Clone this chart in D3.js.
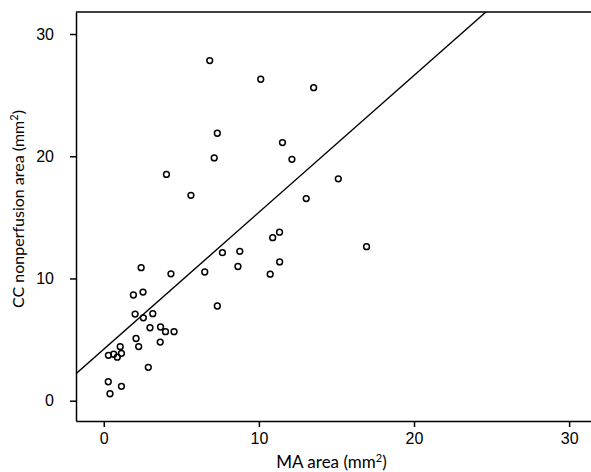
<!DOCTYPE html>
<html>
<head>
<meta charset="utf-8">
<script src="https://cdn.jsdelivr.net/npm/d3@7"></script>
<style>
  body { margin: 0; background: #fff; }
  svg { display: block; font-family: Lato, "Open Sans", sans-serif; }
  .axis path, .axis line { stroke: #000; stroke-width: 1.5; }
  .axis text { font-size: 16px; fill: #000; }
</style>
</head>
<body>
<svg id="chart" width="591" height="472"></svg>
<script>
// MA area (mm²) vs CC nonperfusion area (mm²)
const maArea = [
  6.83, 10.12, 13.53, 7.32, 7.12, 11.52, 12.13, 4.04, 5.62, 15.12, 13.05,
  16.94, 10.89, 11.33, 7.65, 8.77, 8.65, 11.34, 10.73, 6.51, 7.32, 2.41,
  4.33, 1.91, 2.53, 2.02, 2.55, 3.16, 2.98, 3.66, 3.98, 4.53, 2.08,
  2.25, 3.64, 1.06, 0.30, 0.64, 0.87, 1.14, 2.87, 0.29, 1.14, 0.40
];
const ccArea = [
  27.83, 26.30, 25.61, 21.88, 19.86, 21.12, 19.75, 18.51, 16.80, 18.15, 16.54,
  12.60, 13.34, 13.79, 12.11, 12.22, 10.98, 11.35, 10.35, 10.53, 7.75, 10.88,
  10.38, 8.65, 8.89, 7.09, 6.78, 7.12, 5.97, 6.03, 5.65, 5.65, 5.09,
  4.43, 4.80, 4.42, 3.71, 3.80, 3.56, 3.88, 2.73, 1.55, 1.18, 0.57
];
const xTicks = [0, 10, 20, 30];
const yTicks = [0, 10, 20, 30];
// fitted line y = a + b*x
const fitIntercept = 4.21;
const fitSlope = 1.12;

const points = maArea.map((x, i) => ({ x, y: ccArea[i] }));

const svg = d3.select('#chart');
const plotLeft = 76, plotRight = 591, plotTop = 12, plotBottom = 421;

const x = d3.scaleLinear().domain([-1.79, 31.41]).range([plotLeft, plotRight]);
const y = d3.scaleLinear().domain([-1.66, 31.8]).range([plotBottom, plotTop]);

svg.append('defs').append('clipPath').attr('id', 'plot')
  .append('rect').attr('x', plotLeft).attr('y', plotTop)
  .attr('width', plotRight - plotLeft).attr('height', plotBottom - plotTop);

// top frame line
svg.append('line')
  .attr('x1', plotLeft).attr('x2', plotRight).attr('y1', plotTop).attr('y2', plotTop)
  .attr('stroke', '#000').attr('stroke-width', 1.5);

svg.append('g').attr('class', 'axis')
  .attr('transform', `translate(0,${plotBottom})`)
  .call(d3.axisBottom(x).tickValues(xTicks).tickSize(6).tickSizeOuter(0).tickPadding(6));

svg.append('g').attr('class', 'axis')
  .attr('transform', `translate(${plotLeft},0)`)
  .call(d3.axisLeft(y).tickValues(yTicks).tickSize(6).tickSizeOuter(0).tickPadding(16));

// regression line
const xd = x.domain();
svg.append('line')
  .attr('clip-path', 'url(#plot)')
  .attr('x1', x(xd[0])).attr('y1', y(fitIntercept + fitSlope * xd[0]))
  .attr('x2', x(xd[1])).attr('y2', y(fitIntercept + fitSlope * xd[1]))
  .attr('stroke', '#000').attr('stroke-width', 1.4);

svg.append('g').selectAll('circle').data(points).join('circle')
  .attr('cx', d => x(d.x))
  .attr('cy', d => y(d.y))
  .attr('r', 2.9)
  .attr('fill', 'none')
  .attr('stroke', '#000')
  .attr('stroke-width', 1.5);

function axisTitle(sel, label) {
  sel.append('tspan').text(label + ' (mm');
  sel.append('tspan').attr('font-size', 11).attr('dy', -6).text('2');
  sel.append('tspan').attr('dy', 6).text(')');
}

svg.append('text')
  .attr('x', (plotLeft + plotRight) / 2 - 2)
  .attr('y', 468)
  .attr('text-anchor', 'middle')
  .attr('font-size', 17)
  .attr('fill', '#000')
  .call(axisTitle, 'MA area');

svg.append('text')
  .attr('transform', 'translate(24,209) rotate(-90)')
  .attr('text-anchor', 'middle')
  .attr('font-size', 16)
  .attr('fill', '#000')
  .call(axisTitle, 'CC nonperfusion area');
</script>
</body>
</html>
